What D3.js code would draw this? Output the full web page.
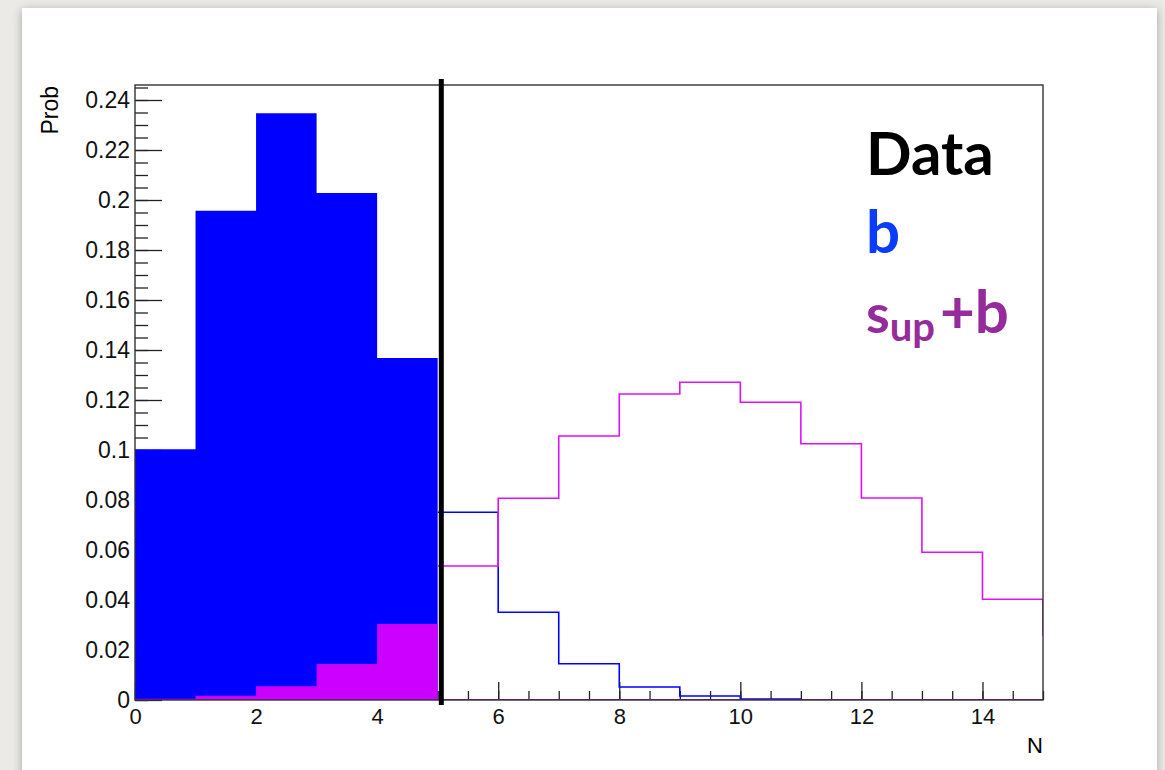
<!DOCTYPE html>
<html>
<head>
<meta charset="utf-8">
<script src="https://cdn.jsdelivr.net/npm/d3@7"></script>
<style>
  html, body { margin: 0; padding: 0; background: #ebeae7; }
  svg { display: block; }
</style>
</head>
<body>
<svg id="my_svg"></svg>
<script>
// bin contents, one per unit bin starting at N = 0
const bProb  = [0.1003, 0.1957, 0.2347, 0.2028, 0.1368, 0.0751, 0.0351, 0.0145, 0.0052, 0.0016, 0.0004, 0, 0, 0, 0, 0];
const sbProb = [0.0005, 0.0017, 0.0055, 0.0144, 0.0304, 0.0536, 0.0807, 0.1056, 0.1224, 0.1271, 0.1191, 0.1025, 0.0808, 0.0591, 0.0403, 0.026];
const nObs = 5.06;     // observed count (black line)
const nCut = 5;        // bins below this are drawn filled
const xTicks = [0, 2, 4, 6, 8, 10, 12, 14];
const yTicks = [0, 0.02, 0.04, 0.06, 0.08, 0.1, 0.12, 0.14, 0.16, 0.18, 0.2, 0.22, 0.24];
const legendLabels = ["Data", "b"];

const width = 1165, height = 770;
const svg = d3.select('#my_svg').attr('width', width).attr('height', height);

const defs = svg.append('defs');
const shadow = defs.append('filter').attr('id', 'shadow')
    .attr('x', '-5%').attr('y', '-5%').attr('width', '110%').attr('height', '110%');
shadow.append('feDropShadow').attr('dx', 0).attr('dy', 2).attr('stdDeviation', 5)
    .attr('flood-color', '#000').attr('flood-opacity', 0.3);

// white slide panel
svg.append('rect').attr('x', 22).attr('y', 8).attr('width', 1135).attr('height', 800)
    .attr('fill', '#fff').attr('filter', 'url(#shadow)');

const x = d3.scaleLinear().domain([0, 15]).range([135, 1043]);
const y = d3.scaleLinear().domain([0, 0.24]).range([700, 100]);
const frameTop = 85;

defs.append('clipPath').attr('id', 'frame')
    .append('rect').attr('x', 135).attr('y', frameTop).attr('width', 1043 - 135).attr('height', 700 - frameTop);

// ticks (drawn first, fills cover them like in ROOT)
const yMinor = d3.range(0, 0.2451, 0.005);
const xMinor = d3.range(0, 15.01, 0.5);

const tickStyle = size => g => {
    g.select('.domain').remove();
    g.selectAll('.tick line').attr('stroke', '#222').attr('stroke-width', 1.3);
    g.selectAll('text').attr('font-family', 'Liberation Sans, Arial, sans-serif')
        .attr('font-size', size).attr('fill', '#111');
};

svg.append('g').attr('transform', 'translate(135,0)')
    .call(d3.axisLeft(y).tickValues(yMinor).tickSize(-13).tickFormat(''))
    .call(tickStyle(23));
svg.append('g').attr('transform', 'translate(135,0)')
    .call(d3.axisLeft(y).tickValues(yTicks).tickSize(-27).tickPadding(5).tickFormat(d3.format('~g')))
    .call(tickStyle(23));

svg.append('g').attr('transform', 'translate(0,700)')
    .call(d3.axisBottom(x).tickValues(xMinor).tickSize(-9).tickFormat(''))
    .call(tickStyle(22));
svg.append('g').attr('transform', 'translate(0,700)')
    .call(d3.axisBottom(x).tickValues(xTicks).tickSize(-18).tickPadding(8).tickFormat(d3.format('d')))
    .call(tickStyle(22));

// filled part (N < nCut)
const fillPts = vals => {
    const pts = vals.slice(0, nCut).map((v, i) => [i, v]);
    pts.push([nCut, vals[nCut - 1]]);
    return pts;
};
const area = d3.area().x(d => x(d[0])).y0(y(0)).y1(d => y(d[1])).curve(d3.curveStepAfter);

svg.append('path').attr('d', area(fillPts(bProb))).attr('fill', '#0000ff');
svg.append('path').attr('d', area(fillPts(sbProb))).attr('fill', '#cc00ff');

// outline part (N >= nCut)
const linePts = vals => {
    const pts = vals.slice(nCut).map((v, i) => [i + nCut, v]);
    pts.push([vals.length, vals[vals.length - 1]]);
    return pts;
};
const line = d3.line().x(d => x(d[0])).y(d => y(d[1])).curve(d3.curveStepAfter);

const hists = svg.append('g').attr('clip-path', 'url(#frame)');
hists.append('path').attr('d', line(linePts(bProb)))
    .attr('fill', 'none').attr('stroke', '#0000ff').attr('stroke-width', 1.6);
hists.append('path').attr('d', line(linePts(sbProb)))
    .attr('fill', 'none').attr('stroke', '#dd11ff').attr('stroke-width', 1.6);

// frame
svg.append('rect').attr('x', 135).attr('y', frameTop).attr('width', 1043 - 135).attr('height', 700 - frameTop)
    .attr('fill', 'none').attr('stroke', '#333').attr('stroke-width', 1.4);

// baseline where both histograms sit at zero
hists.append('line').attr('x1', x(nCut)).attr('x2', x(15)).attr('y1', y(0)).attr('y2', y(0))
    .attr('stroke', '#9a00ff').attr('stroke-width', 2);

// observed value
svg.append('line').attr('x1', x(nObs)).attr('x2', x(nObs)).attr('y1', 79).attr('y2', 705)
    .attr('stroke', '#000').attr('stroke-width', 5);

// axis titles
svg.append('text').attr('x', 1043).attr('y', 753).attr('text-anchor', 'end')
    .attr('font-family', 'Liberation Sans, Arial, sans-serif').attr('font-size', 22).text('N');
svg.append('text').attr('transform', 'translate(58,86) rotate(-90)').attr('text-anchor', 'end')
    .attr('font-family', 'Liberation Sans, Arial, sans-serif').attr('font-size', 23).text('Prob');

// legend
const lg = svg.append('g').attr('font-family', 'Lato, sans-serif').attr('font-weight', 700);
lg.append('text').attr('x', 866).attr('y', 175).attr('font-size', 60).attr('fill', '#000').text(legendLabels[0]);
lg.append('text').attr('x', 866).attr('y', 253).attr('font-size', 60).attr('fill', '#0a3cff').text(legendLabels[1]);
const sb = lg.append('text').attr('x', 866).attr('y', 333).attr('fill', '#962b9b');
sb.append('tspan').attr('font-size', 54).text('s');
sb.append('tspan').attr('font-size', 40).attr('dy', 8).text('up');
sb.append('tspan').attr('font-size', 60).attr('dy', -8).attr('x', 940).text('+b');
</script>
</body>
</html>
